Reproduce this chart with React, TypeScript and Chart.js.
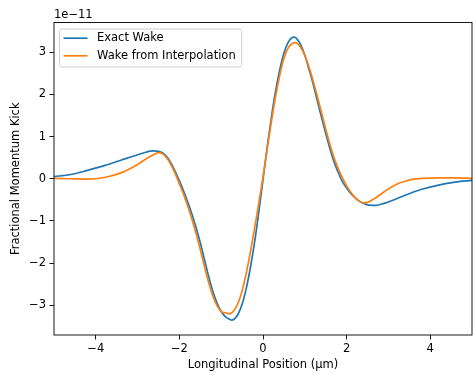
import React, { useEffect, useRef } from 'react';
import { Chart, registerables } from 'chart.js';

Chart.register(...registerables);

// Longitudinal position (um) and kick (units of 1e-11)
const exactX = [-5.0, -4.6, -4.2, -3.8, -3.4, -3.0, -2.8, -2.7, -2.6, -2.5, -2.4, -2.3, -2.2, -2.1, -2.0, -1.9, -1.8, -1.7, -1.6, -1.5, -1.4, -1.3, -1.2, -1.1, -1.0, -0.9, -0.8, -0.75, -0.7, -0.6, -0.5, -0.4, -0.3, -0.2, -0.1, 0.0, 0.1, 0.2, 0.3, 0.4, 0.5, 0.6, 0.7, 0.75, 0.8, 0.9, 1.0, 1.1, 1.2, 1.3, 1.4, 1.5, 1.6, 1.7, 1.8, 1.9, 2.0, 2.1, 2.2, 2.3, 2.4, 2.5, 2.6, 2.7, 2.8, 3.0, 3.4, 3.8, 4.2, 4.6, 5.0];
const exactY = [0.05, 0.10, 0.20, 0.31, 0.44, 0.57, 0.63, 0.655, 0.66, 0.65, 0.61, 0.52, 0.37, 0.17, -0.05, -0.29, -0.55, -0.84, -1.16, -1.52, -1.92, -2.32, -2.67, -2.95, -3.15, -3.27, -3.335, -3.355, -3.34, -3.22, -2.98, -2.60, -2.10, -1.50, -0.78, -0.02, 0.75, 1.45, 2.07, 2.58, 2.98, 3.23, 3.35, 3.36, 3.33, 3.18, 2.93, 2.60, 2.25, 1.85, 1.46, 1.08, 0.72, 0.40, 0.15, -0.07, -0.22, -0.35, -0.45, -0.53, -0.58, -0.62, -0.63, -0.63, -0.61, -0.55, -0.39, -0.25, -0.15, -0.08, -0.04];

const interpX = [-5.0, -4.6, -4.2, -3.8, -3.4, -3.0, -2.8, -2.6, -2.5, -2.4, -2.3, -2.2, -2.1, -2.0, -1.9, -1.8, -1.7, -1.6, -1.5, -1.4, -1.3, -1.2, -1.1, -1.0, -0.9, -0.8, -0.7, -0.6, -0.5, -0.4, -0.3, -0.2, -0.1, 0.0, 0.1, 0.2, 0.3, 0.4, 0.5, 0.6, 0.7, 0.78, 0.9, 1.0, 1.1, 1.2, 1.3, 1.4, 1.5, 1.6, 1.7, 1.8, 1.9, 2.0, 2.1, 2.2, 2.3, 2.4, 2.5, 2.6, 2.7, 2.8, 3.0, 3.2, 3.4, 3.6, 3.8, 4.2, 4.6, 5.0];
const interpY = [0.01, 0.0, -0.01, 0.03, 0.14, 0.34, 0.47, 0.58, 0.62, 0.59, 0.49, 0.33, 0.12, -0.12, -0.37, -0.65, -0.96, -1.30, -1.68, -2.08, -2.46, -2.78, -3.01, -3.15, -3.18, -3.205, -3.13, -2.96, -2.66, -2.24, -1.73, -1.17, -0.58, 0.04, 0.70, 1.35, 1.95, 2.45, 2.85, 3.10, 3.21, 3.23, 3.12, 2.93, 2.65, 2.32, 1.95, 1.57, 1.18, 0.82, 0.50, 0.24, 0.02, -0.17, -0.32, -0.44, -0.53, -0.57, -0.56, -0.51, -0.45, -0.38, -0.24, -0.13, -0.06, -0.01, 0.01, 0.02, 0.02, 0.01];

const seriesNames = ['Exact Wake', 'Wake from Interpolation'];
const seriesColors = ['#1f77b4', '#ff7f0e'];
const xTicks = [-4, -2, 0, 2, 4];
const yTicks = [-3, -2, -1, 0, 1, 2, 3];
const xRange = [-5, 5];
const yRange = [-3.707, 3.707];
const xTitle = 'Longitudinal Position (μm)';
const yTitle = 'Fractional Momentum Kick';
const yExponent = '1e−11';

const FONT = '"DejaVu Sans", sans-serif';
const FS = 11.5;

const fmt = (v: number) => (v < 0 ? '−' + Math.abs(v) : String(v));

const decorations = {
  id: 'decorations',
  afterDraw(chart: any) {
    const { ctx, chartArea: a } = chart;
    ctx.save();
    // frame
    ctx.strokeStyle = '#000';
    ctx.lineWidth = 0.9;
    ctx.strokeRect(a.left, a.top, a.right - a.left, a.bottom - a.top);
    // exponent label
    ctx.font = `${FS}px ${FONT}`;
    ctx.fillStyle = '#000';
    ctx.textBaseline = 'alphabetic';
    ctx.textAlign = 'left';
    ctx.fillText(yExponent, a.left, a.top - 5);
    // legend
    const bx = a.left + 5.5;
    const by = a.top + 6.5;
    const rowH = 17.6;
    const textX = bx + 37.5;
    let maxW = 0;
    seriesNames.forEach((n) => (maxW = Math.max(maxW, ctx.measureText(n).width)));
    const bw = textX - bx + maxW + 6;
    const bh = 38;
    ctx.beginPath();
    const r = 2.5;
    ctx.moveTo(bx + r, by);
    ctx.lineTo(bx + bw - r, by);
    ctx.quadraticCurveTo(bx + bw, by, bx + bw, by + r);
    ctx.lineTo(bx + bw, by + bh - r);
    ctx.quadraticCurveTo(bx + bw, by + bh, bx + bw - r, by + bh);
    ctx.lineTo(bx + r, by + bh);
    ctx.quadraticCurveTo(bx, by + bh, bx, by + bh - r);
    ctx.lineTo(bx, by + r);
    ctx.quadraticCurveTo(bx, by, bx + r, by);
    ctx.closePath();
    ctx.fillStyle = 'rgba(255,255,255,0.8)';
    ctx.fill();
    ctx.strokeStyle = '#d0d0d0';
    ctx.lineWidth = 1;
    ctx.stroke();
    seriesNames.forEach((n, i) => {
      const cy = by + 9.2 + i * rowH;
      ctx.strokeStyle = seriesColors[i];
      ctx.lineWidth = 1.7;
      ctx.beginPath();
      ctx.moveTo(bx + 4, cy);
      ctx.lineTo(bx + 28, cy);
      ctx.stroke();
      ctx.fillStyle = '#000';
      ctx.textBaseline = 'middle';
      ctx.fillText(n, textX, cy);
    });
    ctx.restore();
  },
};

export default function App() {
  const ref = useRef<HTMLCanvasElement | null>(null);
  useEffect(() => {
    document.body.style.margin = '0';
    const canvas = ref.current;
    if (!canvas) return;
    const chart = new Chart(canvas, {
      type: 'line',
      data: {
        datasets: [
          {
            label: seriesNames[0],
            data: exactX.map((x, i) => ({ x, y: exactY[i] })),
            borderColor: seriesColors[0],
            backgroundColor: seriesColors[0],
            borderWidth: 1.7,
            pointRadius: 0,
            cubicInterpolationMode: 'monotone',
            order: 1,
          },
          {
            label: seriesNames[1],
            data: interpX.map((x, i) => ({ x, y: interpY[i] })),
            borderColor: seriesColors[1],
            backgroundColor: seriesColors[1],
            borderWidth: 1.7,
            pointRadius: 0,
            cubicInterpolationMode: 'monotone',
            order: 0,
          },
        ],
      },
      options: {
        animation: false,
        responsive: false,
        events: [],
        layout: { autoPadding: false, padding: { top: 22.5, right: 1, bottom: 0, left: 0 } },
        plugins: { legend: { display: false }, tooltip: { enabled: false } },
        scales: {
          x: {
            type: 'linear',
            min: xRange[0],
            max: xRange[1],
            afterBuildTicks: (s: any) => {
              s.ticks = xTicks.map((v) => ({ value: v }));
            },
            afterFit: (s: any) => {
              s.height = 38;
            },
            border: { display: false },
            grid: { drawOnChartArea: false, drawTicks: true, tickLength: 4.5, tickColor: '#000', tickWidth: 0.9 },
            ticks: { color: '#000', font: { family: FONT, size: FS }, padding: 3, callback: (v: any) => fmt(Number(v)), maxRotation: 0 },
            title: { display: true, text: xTitle, color: '#000', font: { family: FONT, size: FS }, padding: { bottom: 1.5, top: 0 } },
          },
          y: {
            type: 'linear',
            min: yRange[0],
            max: yRange[1],
            afterBuildTicks: (s: any) => {
              s.ticks = yTicks.map((v) => ({ value: v }));
            },
            afterFit: (s: any) => {
              s.width = 54;
            },
            border: { display: false },
            grid: { drawOnChartArea: false, drawTicks: true, tickLength: 4.5, tickColor: '#000', tickWidth: 0.9 },
            ticks: { color: '#000', font: { family: FONT, size: FS }, padding: 3.5, callback: (v: any) => fmt(Number(v)) },
            title: { display: true, text: yTitle, color: '#000', font: { family: FONT, size: FS }, padding: { top: 9, bottom: 0 } },
          },
        },
      },
      plugins: [decorations],
    } as any);
    return () => chart.destroy();
  }, []);
  return (
    <div style={{ position: 'absolute', left: 0, top: 0, width: 473, height: 373 }}>
      <canvas ref={ref} width={473} height={373} style={{ width: 473, height: 373 }} />
    </div>
  );
}
